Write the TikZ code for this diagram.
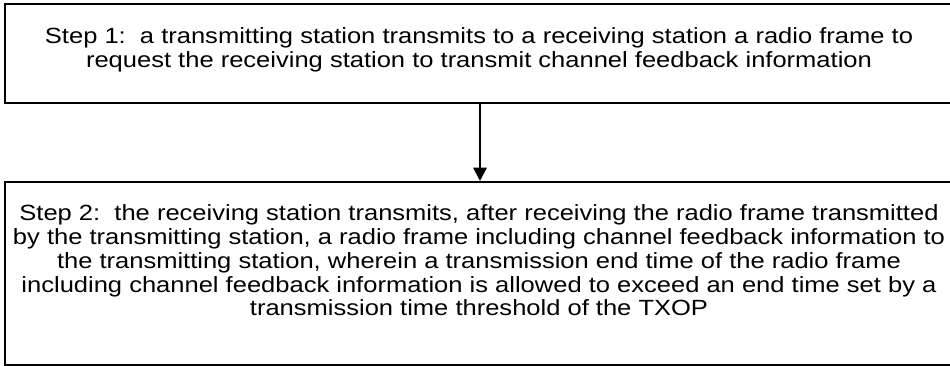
\documentclass[tikz,border=0pt]{standalone}
\usepackage{fontspec}
\setmainfont{Liberation Sans}[FakeStretch=1.16]
\usetikzlibrary{arrows.meta}
\tikzset{
	stepbox/.style={draw, line width=1.5pt, inner sep=0pt, minimum width=712.5pt},
	steptext/.style={align=center, inner sep=0pt,
		font=\fontsize{16.5pt}{17.8pt}\selectfont},
	flow/.style={line width=1.5pt, -{Triangle[width=10pt,length=10pt]}}
}
\begin{document}
\begin{tikzpicture}[x=0.75pt, y=-0.75pt, line join=miter]
	\useasboundingbox (0,0) rectangle (950,366);
	% boxes
	\node[stepbox, minimum height=74.25pt] (s1) at (480,53.5) {};
	\node[stepbox, minimum height=137.25pt] (s2) at (480,273.5) {};
	% texts
	\node[steptext] (t1) at (479,50)
		{Step 1:\ \ a transmitting station transmits to a receiving station a radio frame to\\
		request the receiving station to transmit channel feedback information};
	\node[steptext] (t2) at (479,260.5)
		{Step 2:\ \ the receiving station transmits, after receiving the radio frame transmitted\\
		by the transmitting station, a radio frame including channel feedback information to\\
		the transmitting station, wherein a transmission end time of the radio frame\\
		including channel feedback information is allowed to exceed an end time set by a\\
		transmission time threshold of the TXOP};
	\draw[flow] (s1) -- (s2);
\end{tikzpicture}
\end{document}
